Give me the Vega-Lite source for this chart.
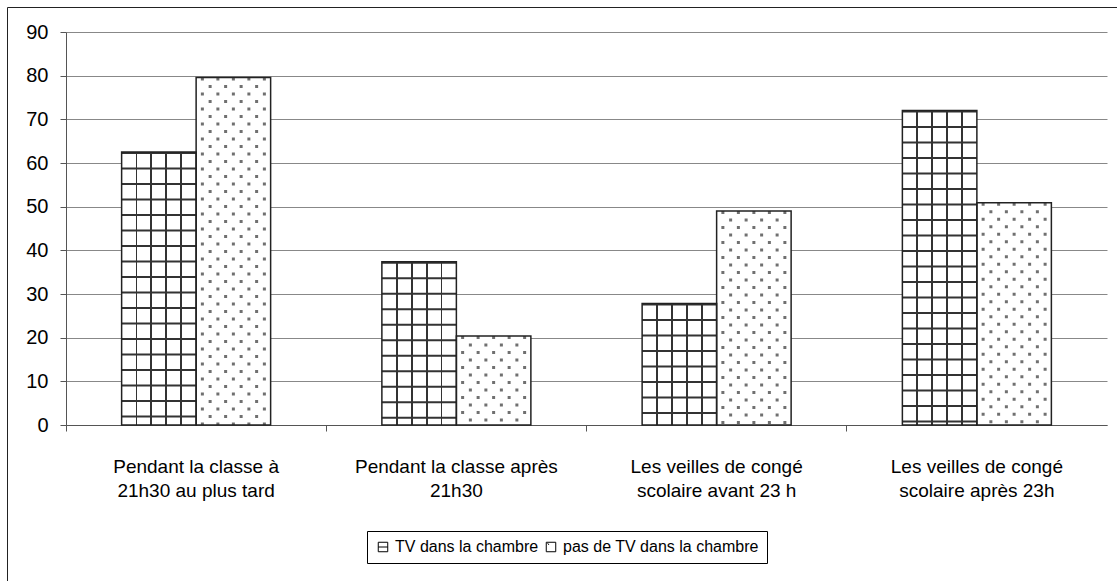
{
  "$schema": "https://vega.github.io/schema/vega-lite/v6.json",
  "width": 1110,
  "height": 574,
  "autosize": {"type": "none"},
  "padding": {"left": 7, "top": 7, "right": 0, "bottom": 0},
  "background": "white",
  "config": {
    "font": "Liberation Sans",
    "view": {"stroke": null}
  },
  "data": {
    "values": [
      {"category": "Pendant la classe à\n21h30 au plus tard", "series": "TV dans la chambre", "value": 62.5},
      {"category": "Pendant la classe à\n21h30 au plus tard", "series": "pas de TV dans la chambre", "value": 79.6},
      {"category": "Pendant la classe après\n21h30", "series": "TV dans la chambre", "value": 37.4},
      {"category": "Pendant la classe après\n21h30", "series": "pas de TV dans la chambre", "value": 20.4},
      {"category": "Les veilles de congé\nscolaire avant 23 h", "series": "TV dans la chambre", "value": 27.8},
      {"category": "Les veilles de congé\nscolaire avant 23 h", "series": "pas de TV dans la chambre", "value": 49.0},
      {"category": "Les veilles de congé\nscolaire après 23h", "series": "TV dans la chambre", "value": 72.0},
      {"category": "Les veilles de congé\nscolaire après 23h", "series": "pas de TV dans la chambre", "value": 50.9}
    ]
  },
  "resolve": {
    "scale": {"x": "independent", "y": "independent"},
    "axis": {"x": "independent", "y": "independent"}
  },
  "layer": [
    {
      "encoding": {
        "x": {
          "field": "category", "type": "nominal", "sort": null, "title": null,
          "scale": {"type": "band", "range": [59, 1100], "paddingInner": 0, "paddingOuter": 0},
          "axis": {
            "orient": "bottom", "offset": -156, "domainColor": "#555", "domainWidth": 1,
            "tickColor": "#555", "tickSize": 6, "bandPosition": 0, "tickExtra": true,
            "labelAngle": 0, "labelFontSize": 19, "labelColor": "#000", "labelLineHeight": 24,
            "labelPadding": 26, "labelLimit": 300,
            "labelExpr": "split(datum.label, '\\n')", "grid": false
          }
        },
        "y": {
          "field": "value", "type": "quantitative", "title": null,
          "scale": {"domain": [0, 90], "range": [418, 25], "nice": false},
          "axis": {
            "orient": "left", "offset": -59, "values": [0, 10, 20, 30, 40, 50, 60, 70, 80, 90],
            "domainColor": "#555", "tickColor": "#555", "tickSize": 6,
            "labelFontSize": 20, "labelColor": "#000", "labelPadding": 12,
            "grid": true, "gridColor": "#888", "gridWidth": 1
          }
        }
      },
      "layer": [
        {
          "transform": [{"filter": "datum.series === 'pas de TV dans la chambre'"}],
          "mark": {"type": "bar", "width": 74.5, "xOffset": 37.25, "stroke": null},
          "encoding": {
            "fill": {
              "field": "series", "type": "nominal", "title": null,
              "scale": {"domain": ["TV dans la chambre", "pas de TV dans la chambre"], "range": ["#ffffff", "#ffffff"]},
              "legend": {
                "orient": "none", "legendX": 360, "legendY": 524, "direction": "horizontal",
                "strokeColor": "#000", "padding": 8, "labelFontSize": 16, "labelColor": "#000",
                "labelLimit": 400, "symbolSize": 90, "symbolStrokeColor": "#000", "symbolStrokeWidth": 1,
                "symbolFillColor": "#fff", "symbolType": "square", "columnPadding": 4, "labelOffset": 4,
                "encode": {
                  "symbols": {
                    "update": {
                      "shape": {"signal": "datum.value === 'TV dans la chambre' ? 'M-1,-1H1V1H-1Z M-1,0H1' : 'M-1,-1H1V1H-1Z M-0.7,-0.8L-0.45,-0.45'"}
                    }
                  }
                }
              }
            }
          }
        },
        {"transform": [{"filter": "datum.series === 'pas de TV dans la chambre'"}], "mark": {"type": "rule", "xOffset": 6.25, "strokeWidth": 3, "color": "#707070", "strokeDash": [3, 12], "strokeCap": "butt"}},
        {"transform": [{"filter": "datum.series === 'pas de TV dans la chambre'"}], "mark": {"type": "rule", "xOffset": 21.75, "strokeWidth": 3, "color": "#707070", "strokeDash": [3, 12], "strokeCap": "butt"}},
        {"transform": [{"filter": "datum.series === 'pas de TV dans la chambre'"}], "mark": {"type": "rule", "xOffset": 37.25, "strokeWidth": 3, "color": "#707070", "strokeDash": [3, 12], "strokeCap": "butt"}},
        {"transform": [{"filter": "datum.series === 'pas de TV dans la chambre'"}], "mark": {"type": "rule", "xOffset": 52.75, "strokeWidth": 3, "color": "#707070", "strokeDash": [3, 12], "strokeCap": "butt"}},
        {"transform": [{"filter": "datum.series === 'pas de TV dans la chambre'"}], "mark": {"type": "rule", "xOffset": 68.25, "strokeWidth": 3, "color": "#707070", "strokeDash": [3, 12], "strokeCap": "butt"}},
        {"transform": [{"filter": "datum.series === 'pas de TV dans la chambre'"}], "mark": {"type": "rule", "xOffset": 14, "strokeWidth": 3, "color": "#707070", "strokeDash": [3, 12], "strokeDashOffset": 7.5, "strokeCap": "butt"}},
        {"transform": [{"filter": "datum.series === 'pas de TV dans la chambre'"}], "mark": {"type": "rule", "xOffset": 29.5, "strokeWidth": 3, "color": "#707070", "strokeDash": [3, 12], "strokeDashOffset": 7.5, "strokeCap": "butt"}},
        {"transform": [{"filter": "datum.series === 'pas de TV dans la chambre'"}], "mark": {"type": "rule", "xOffset": 45, "strokeWidth": 3, "color": "#707070", "strokeDash": [3, 12], "strokeDashOffset": 7.5, "strokeCap": "butt"}},
        {"transform": [{"filter": "datum.series === 'pas de TV dans la chambre'"}], "mark": {"type": "rule", "xOffset": 60.5, "strokeWidth": 3, "color": "#707070", "strokeDash": [3, 12], "strokeDashOffset": 7.5, "strokeCap": "butt"}},
        {
          "transform": [{"filter": "datum.series === 'TV dans la chambre'"}],
          "mark": {
            "type": "bar", "width": 74.5, "xOffset": -37.25, "stroke": null,
            "fill": {
              "gradient": "linear", "x1": 0, "y1": 0, "x2": 1, "y2": 0,
              "stops": [
                {"offset": 0, "color": "#ffffff"}, {"offset": 0.187, "color": "#ffffff"},
                {"offset": 0.187, "color": "#333333"}, {"offset": 0.213, "color": "#333333"},
                {"offset": 0.213, "color": "#ffffff"}, {"offset": 0.387, "color": "#ffffff"},
                {"offset": 0.387, "color": "#333333"}, {"offset": 0.413, "color": "#333333"},
                {"offset": 0.413, "color": "#ffffff"}, {"offset": 0.587, "color": "#ffffff"},
                {"offset": 0.587, "color": "#333333"}, {"offset": 0.613, "color": "#333333"},
                {"offset": 0.613, "color": "#ffffff"}, {"offset": 0.787, "color": "#ffffff"},
                {"offset": 0.787, "color": "#333333"}, {"offset": 0.813, "color": "#333333"},
                {"offset": 0.813, "color": "#ffffff"}, {"offset": 1, "color": "#ffffff"}
              ]
            }
          }
        },
        {"transform": [{"filter": "datum.series === 'TV dans la chambre'"}], "mark": {"type": "rule", "xOffset": -37.25, "strokeWidth": 74.5, "color": "#333333", "strokeDash": [2, 13.5], "strokeCap": "butt"}},
        {"transform": [{"filter": "datum.series === 'TV dans la chambre'"}], "mark": {"type": "bar", "width": 74.5, "xOffset": -37.25, "fill": null, "fillOpacity": 0, "stroke": "#222", "strokeWidth": 1.5}},
        {"transform": [{"filter": "datum.series === 'pas de TV dans la chambre'"}], "mark": {"type": "bar", "width": 74.5, "xOffset": 37.25, "fill": null, "fillOpacity": 0, "stroke": "#222", "strokeWidth": 1.5}}
      ]
    },
    {
      "mark": {"type": "point", "opacity": 0},
      "encoding": {
        "x": {
          "field": "category", "type": "nominal", "sort": null, "title": null,
          "scale": {"type": "point", "range": [0, 1110]},
          "axis": {"orient": "top", "offset": 0, "domainColor": "#222", "domainWidth": 1, "ticks": false, "labels": false, "grid": false}
        },
        "y": {
          "field": "value", "type": "quantitative", "title": null,
          "scale": {"range": [574, 0]},
          "axis": {"orient": "left", "offset": 0, "domainColor": "#222", "domainWidth": 1, "ticks": false, "labels": false, "grid": false}
        }
      }
    }
  ]
}
